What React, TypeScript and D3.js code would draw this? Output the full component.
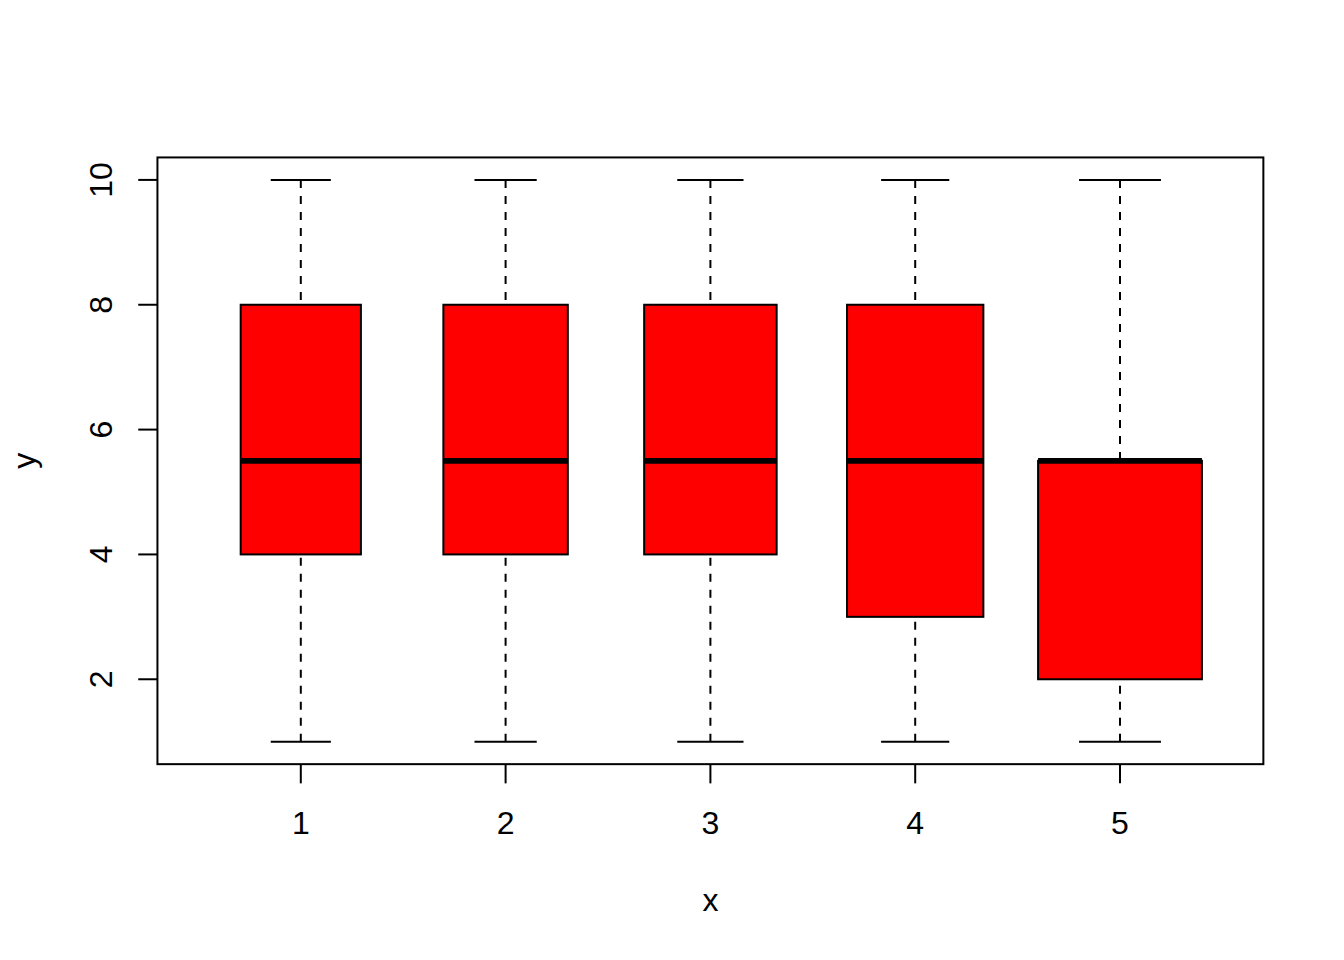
import React from 'react';
import * as d3 from 'd3';

const groups = ['1', '2', '3', '4', '5'];
const counts = [14, 15, 17, 18, 26];
const mins = [1, 1, 1, 1, 1];
const q1s = [4, 4, 4, 3, 2];
const medians = [5.5, 5.5, 5.5, 5.5, 5.5];
const q3s = [8, 8, 8, 8, 5.5];
const maxs = [10, 10, 10, 10, 10];
const yTicks = [2, 4, 6, 8, 10];
const xLabel = 'x';
const yLabel = 'y';

const W = 1344;
const H = 960;
const LINE = 38.4;
const left = 4.1 * LINE;
const right = W - 2.1 * LINE;
const top = 4.1 * LINE;
const bottom = H - 5.1 * LINE;
const FONT = 'Arial, "Liberation Sans", sans-serif';

export default function App() {
  const positions = groups.map((_, i) => i + 1);
  const xr = [0.5, groups.length + 0.5];
  const xPad = (xr[1] - xr[0]) * 0.04;
  const x = d3.scaleLinear().domain([xr[0] - xPad, xr[1] + xPad]).range([left, right]);
  const ymin = d3.min(mins) as number;
  const ymax = d3.max(maxs) as number;
  const yPad = (ymax - ymin) * 0.04;
  const y = d3.scaleLinear().domain([ymin - yPad, ymax + yPad]).range([bottom, top]);
  const maxSqrt = Math.sqrt(d3.max(counts) as number);
  const halfW = counts.map((n) => 0.4 * Math.sqrt(n) / maxSqrt);
  const tickLen = 0.5 * LINE;

  return (
    <svg width={W} height={H} style={{ position: 'absolute', left: 0, top: 0, background: '#fff' }}
      fontFamily={FONT}>
      <rect x={0} y={0} width={W} height={H} fill="#fff" />
      {groups.map((g, i) => {
        const cx = x(positions[i]);
        const hw = halfW[i];
        const bl = x(positions[i] - hw);
        const br = x(positions[i] + hw);
        const cl = x(positions[i] - hw / 2);
        const cr = x(positions[i] + hw / 2);
        return (
          <g key={g}>
            <line x1={cx} x2={cx} y1={y(mins[i])} y2={y(q1s[i])} stroke="#000" strokeWidth={2} strokeDasharray="8,8" />
            <line x1={cx} x2={cx} y1={y(maxs[i])} y2={y(q3s[i])} stroke="#000" strokeWidth={2} strokeDasharray="8,8" />
            <line x1={cl} x2={cr} y1={y(mins[i])} y2={y(mins[i])} stroke="#000" strokeWidth={2} />
            <line x1={cl} x2={cr} y1={y(maxs[i])} y2={y(maxs[i])} stroke="#000" strokeWidth={2} />
            <rect x={bl} y={y(q3s[i])} width={br - bl} height={y(q1s[i]) - y(q3s[i])} fill="#ff0000" stroke="#000" strokeWidth={2} />
            <line x1={bl} x2={br} y1={y(medians[i])} y2={y(medians[i])} stroke="#000" strokeWidth={5.8} />
          </g>
        );
      })}
      <rect x={left} y={top} width={right - left} height={bottom - top} fill="none" stroke="#000" strokeWidth={2} />
      {positions.map((p, i) => (
        <g key={'xt' + i}>
          <line x1={x(p)} x2={x(p)} y1={bottom} y2={bottom + tickLen} stroke="#000" strokeWidth={2} />
          <text x={x(p)} y={834} textAnchor="middle" fontSize={32} fill="#000">{groups[i]}</text>
        </g>
      ))}
      {yTicks.map((t) => (
        <g key={'yt' + t}>
          <line x1={left - tickLen} x2={left} y1={y(t)} y2={y(t)} stroke="#000" strokeWidth={2} />
          <text transform={`translate(112.3, ${y(t)}) rotate(-90)`} textAnchor="middle" fontSize={32} fill="#000">{t}</text>
        </g>
      ))}
      <text x={(left + right) / 2} y={910.5} textAnchor="middle" fontSize={32} fill="#000">{xLabel}</text>
      <text transform={`translate(35, ${(top + bottom) / 2}) rotate(-90)`} textAnchor="middle" fontSize={32} fill="#000">{yLabel}</text>
    </svg>
  );
}
